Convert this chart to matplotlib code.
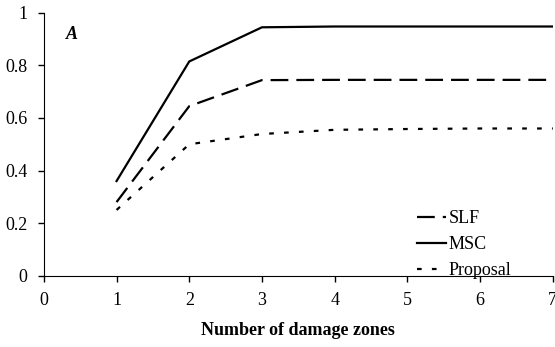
import matplotlib
matplotlib.use("Agg")
from matplotlib import pyplot as plt

zones = [1, 2, 3, 4, 5, 6, 7]
slf = [0.28, 0.645, 0.744, 0.745, 0.745, 0.745, 0.745]
msc = [0.36, 0.815, 0.945, 0.948, 0.948, 0.948, 0.948]
proposal = [0.25, 0.50, 0.539, 0.555, 0.558, 0.56, 0.56]

plt.rcParams['font.family'] = ['Liberation Serif', 'DejaVu Serif']
plt.rcParams['font.size'] = 13

fig = plt.figure(figsize=(5.55, 3.47), dpi=100)
ax = fig.add_axes([0.079, 0.2055, 0.917, 0.7575])

ax.plot(zones, slf, color="black", lw=1.6, dashes=(8, 3.6), label="SLF")
ax.plot(zones, msc, color="black", lw=1.6, label="MSC")
ax.plot(zones, proposal, color="black", lw=1.6, dashes=(2.1, 4.6), label="Proposal")

ax.set_xlim(0, 7)
ax.set_ylim(0, 1)
ax.set_xticks(range(8))
ax.set_yticks([0, 0.2, 0.4, 0.6, 0.8, 1])
ax.set_yticklabels(["0", "0.2", "0.4", "0.6", "0.8", "1"])
ax.spines["top"].set_visible(False)
ax.spines["right"].set_visible(False)
ax.tick_params(direction="out", length=4, width=1, pad=8)
ax.set_xlabel("Number of damage zones", fontweight="bold", labelpad=9)
ax.text(0.3, 0.9, "A", fontweight="bold", fontstyle="italic", fontsize=13)

ax.legend(loc="lower right", bbox_to_anchor=(0.95, -0.075), frameon=False,
          handlelength=1.6, handletextpad=0.15, labelspacing=0.5)

fig.savefig("out.png", dpi=100)
